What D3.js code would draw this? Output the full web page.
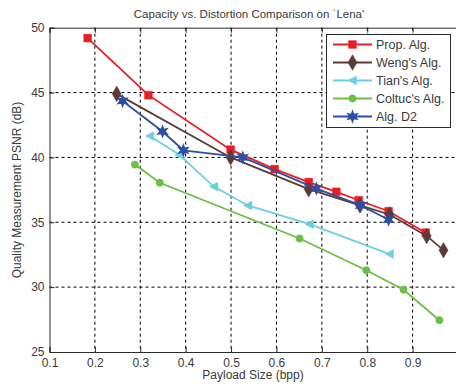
<!DOCTYPE html>
<html><head><meta charset="utf-8">
<script src="https://cdn.jsdelivr.net/npm/d3@7"></script>
<style>body{margin:0;background:#fff}svg{display:block;font-family:"Liberation Sans",Arial,sans-serif}</style>
</head><body><svg id="c" width="456" height="389"></svg>
<script>
const xTicks=[0.1,0.2,0.3,0.4,0.5,0.6,0.7,0.8,0.9];
const yTicks=[25,30,35,40,45,50];
const seriesNames=["Prop. Alg.","Weng's Alg.","Tian's Alg.","Coltuc's Alg.","Alg. D2"];
const propX=[0.184,0.318,0.499,0.596,0.671,0.732,0.781,0.847,0.929];
const propY=[49.2,44.8,40.6,39.1,38.1,37.35,36.7,35.85,34.2];
const wengX=[0.248,0.499,0.671,0.784,0.849,0.931,0.968];
const wengY=[44.9,40.0,37.55,36.3,35.6,33.95,32.85];
const tianX=[0.321,0.386,0.462,0.537,0.673,0.849];
const tianY=[41.65,40.2,37.75,36.3,34.85,32.55];
const coltucX=[0.288,0.343,0.651,0.798,0.880,0.959];
const coltucY=[39.45,38.05,33.75,31.3,29.8,27.45];
const d2X=[0.261,0.349,0.395,0.526,0.688,0.786,0.847];
const d2Y=[44.35,42.0,40.55,40.0,37.6,36.3,35.2];

const colors=["#ec1c24","#5c3b36","#6fcfe2","#6cbf44","#2d4fa3"];
const symbols=[d3.symbolSquare,d3.symbolDiamond,"tri",d3.symbolCircle,"star"];
const sizes=[60,70,50,42,0];
const data=[[propX,propY],[wengX,wengY],[tianX,tianY],[coltucX,coltucY],[d2X,d2Y]].map(([xs,ys])=>xs.map((x,i)=>({x,y:ys[i]})));

const svg=d3.select("#c");
const L=49.5,T=27.7,B=352,R=458;
const x=d3.scaleLinear().domain([0.1,1.0]).range([L,R]);
const y=d3.scaleLinear().domain([25,50]).range([B,T]);
const axisColor="#2b2b2b", textColor="#3a3a3a";

// grid
const g=svg.append("g");
g.selectAll(".gx").data(xTicks.slice(1).concat([1.0])).enter().append("line")
 .attr("x1",d=>x(d)).attr("x2",d=>x(d)).attr("y1",T).attr("y2",B)
 .attr("stroke","#000").attr("stroke-width",1).attr("stroke-dasharray","3,3");
g.selectAll(".gy").data(yTicks.slice(1,-1)).enter().append("line")
 .attr("y1",d=>y(d)).attr("y2",d=>y(d)).attr("x1",L).attr("x2",R)
 .attr("stroke","#000").attr("stroke-width",1).attr("stroke-dasharray","3,3");

// axes
const xAxis=svg.append("g").attr("transform",`translate(0,${B})`)
 .call(d3.axisBottom(x).tickValues(xTicks).tickSize(-5).tickPadding(6).tickFormat(d3.format(".1f")));
const xTop=svg.append("g").attr("transform",`translate(0,${T})`)
 .call(d3.axisTop(x).tickValues(xTicks).tickSize(-5).tickFormat(""));
const yAxis=svg.append("g").attr("transform",`translate(${L},0)`)
 .call(d3.axisLeft(y).tickValues(yTicks).tickSize(-5).tickPadding(5));
[xAxis,xTop,yAxis].forEach(a=>{
 a.select(".domain").attr("stroke",axisColor).attr("stroke-width",1);
 a.selectAll(".tick line").attr("stroke",axisColor);
 a.selectAll("text").attr("fill",textColor).attr("font-size",12).attr("font-family","Liberation Sans, Arial, sans-serif");
});

// lines
const line=d3.line().x(d=>x(d.x)).y(d=>y(d.y));
function starPath(r){let p="";for(let i=0;i<12;i++){const a=Math.PI/6*i-Math.PI/2;const rr=i%2?r*0.45:r;p+=(i?"L":"M")+(rr*Math.cos(a)).toFixed(2)+","+(rr*Math.sin(a)).toFixed(2);}return p+"Z";}
function markerPath(k){
 if(symbols[k]==="tri") return "M-4.5,0L4,-4.5L4,4.5Z";
 if(symbols[k]==="star") return starPath(5.5);
 return d3.symbol().type(symbols[k]).size(sizes[k])();
}
const plot=svg.append("g");
data.forEach((pts,k)=>{
 plot.append("path").datum(pts).attr("d",line).attr("fill","none").attr("stroke",colors[k]).attr("stroke-width",1.8);
 plot.selectAll(".m"+k).data(pts).enter().append("path")
  .attr("transform",d=>`translate(${x(d.x)},${y(d.y)})`).attr("d",markerPath(k))
  .attr("fill",colors[k]).attr("stroke",colors[k]).attr("stroke-width",k===4?1.2:0.5);
});

// legend
const lg=svg.append("g");
lg.append("rect").attr("x",326.5).attr("y",34.5).attr("width",124).attr("height",93)
 .attr("fill","#fff").attr("stroke",axisColor).attr("stroke-width",1);
seriesNames.forEach((n,k)=>{
 const yy=44.5+k*18;
 lg.append("line").attr("x1",333).attr("x2",372).attr("y1",yy).attr("y2",yy).attr("stroke",colors[k]).attr("stroke-width",1.8);
 lg.append("path").attr("transform",`translate(352.5,${yy})`).attr("d",markerPath(k)).attr("fill",colors[k]).attr("stroke",colors[k]).attr("stroke-width",k===4?1.2:0.5);
 lg.append("text").attr("x",376).attr("y",yy+4.5).attr("font-size",12.5).attr("fill",textColor).text(n);
});

// titles
svg.append("text").attr("x",249).attr("y",18).attr("text-anchor","middle").attr("font-size",11.5).attr("fill",textColor)
 .text("Capacity vs. Distortion Comparison on `Lena'");
svg.append("text").attr("x",253).attr("y",379).attr("text-anchor","middle").attr("font-size",12).attr("fill",textColor).text("Payload Size (bpp)");
svg.append("text").attr("transform","translate(21,190) rotate(-90)").attr("text-anchor","middle").attr("font-size",12).attr("fill",textColor)
 .text("Quality Measurement PSNR (dB)");
</script></body></html>
